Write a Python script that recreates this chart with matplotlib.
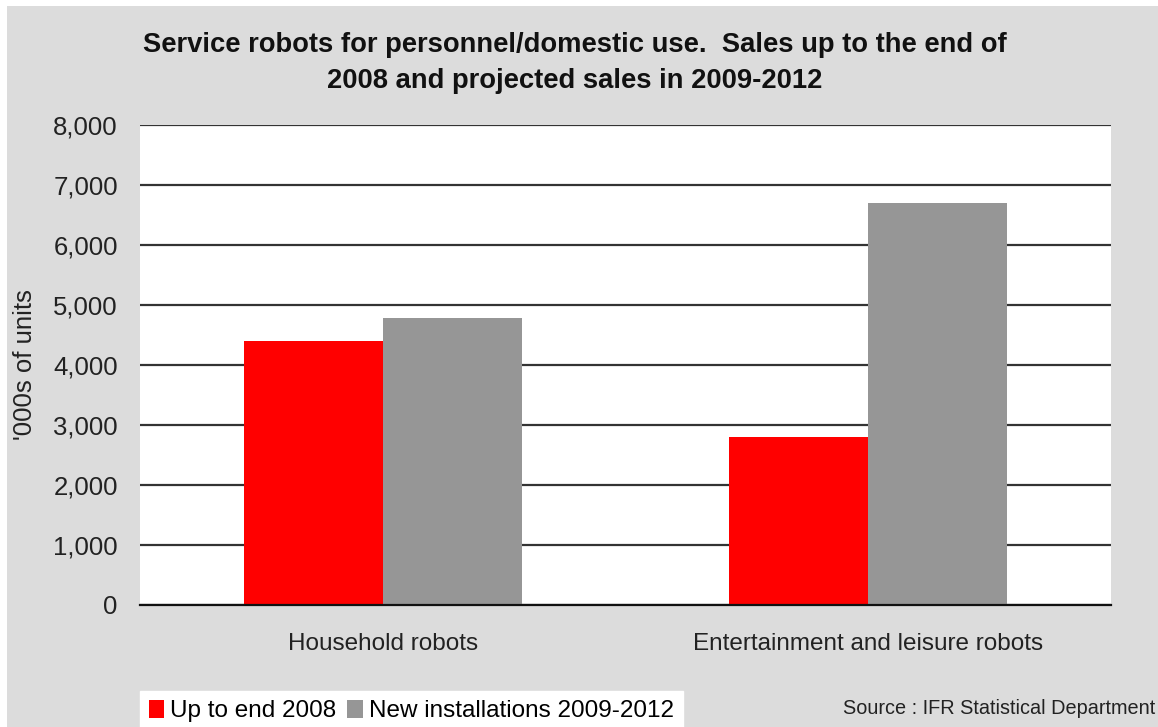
import matplotlib
matplotlib.use("Agg")
import matplotlib.pyplot as plt
from matplotlib.patches import Rectangle
import numpy as np

categories = ["Household robots", "Entertainment and leisure robots"]
series_names = ["Up to end 2008", "New installations 2009-2012"]
up_to_2008 = [4400, 2800]
new_2009_2012 = [4780, 6700]
colors = ["#FF0000", "#969696"]
yticks = [0, 1000, 2000, 3000, 4000, 5000, 6000, 7000, 8000]

plt.rcParams['font.family'] = ['Liberation Sans', 'DejaVu Sans']

W, H = 1158, 727
fig = plt.figure(figsize=(W / 100, H / 100), dpi=100, facecolor="white")
# gray background panel
fig.patches.append(Rectangle((7 / W, 0), 1 - 7 / W, 1 - 6 / H, transform=fig.transFigure,
                             facecolor="#DCDCDC", edgecolor="none", zorder=-10))

ax = fig.add_axes([140 / W, 1 - 605 / H, (1111 - 140) / W, (605 - 125) / H])
ax.set_facecolor("white")

x = np.arange(len(categories))
bw = 0.286
ax.bar(x - bw / 2, up_to_2008, width=bw, color=colors[0], label=series_names[0], zorder=3)
ax.bar(x + bw / 2, new_2009_2012, width=bw, color=colors[1], label=series_names[1], zorder=3)

ax.set_xlim(-0.5, 1.5)
ax.set_ylim(0, 8000)
ax.set_yticks(yticks)
ax.set_yticklabels([f"{v:,}" for v in yticks], fontsize=18.5, color="#222222")
ax.set_xticks(x)
ax.set_xticklabels(categories, fontsize=17.5, color="#222222")
ax.tick_params(axis="y", length=0, pad=16)
ax.tick_params(axis="x", length=0, pad=20)
ax.yaxis.grid(True, color="#333333", linewidth=1.6, zorder=1)
ax.set_axisbelow(True)
for s in ["left", "right", "top"]:
    ax.spines[s].set_visible(False)
ax.spines["bottom"].set_color("#111111")
ax.spines["bottom"].set_linewidth(1.6)
ax.spines["bottom"].set_zorder(4)

ax.set_ylabel("'000s of units", fontsize=18.5, color="#222222")
ax.yaxis.set_label_coords(-(140 - 37) / (1111 - 140), 0.5)

fig.text(575 / W, 1 - 62.5 / H,
         "Service robots for personnel/domestic use.  Sales up to the end of\n2008 and projected sales in 2009-2012",
         ha="center", va="center", fontsize=19.7, fontweight="bold", color="#111111", linespacing=1.5)

leg = fig.legend(loc="lower left", bbox_to_anchor=(140 / W, -4 / H), borderaxespad=0, ncol=2, frameon=True,
                 fontsize=17.5, handlelength=0.65, handleheight=0.8, handletextpad=0.25,
                 columnspacing=0.45, borderpad=0.35, fancybox=False)
leg.get_frame().set_facecolor("white")
leg.get_frame().set_edgecolor("white")
leg.get_frame().set_alpha(1)

fig.text(1155 / W, 1 - 709 / H, "Source : IFR Statistical Department", ha="right", va="center",
         fontsize=14.3, color="#222222")

fig.savefig("out.png", dpi=100, facecolor=fig.get_facecolor())
